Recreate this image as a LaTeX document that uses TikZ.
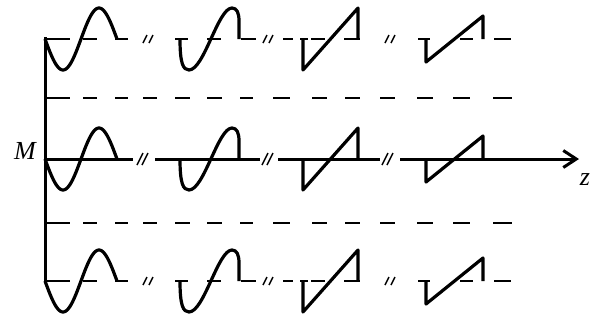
\documentclass[tikz,border=0pt]{standalone}
\usepackage{fontspec}
\setmainfont{Liberation Serif}
\usetikzlibrary{arrows.meta}

% one row of the four wave shapes on baseline #1
\newcommand{\waverow}[1]{%
  \draw[wave] plot[domain=0:360, samples=61, smooth] ({45+\x/5}, {#1+31*sin(\x)});
  \draw[wave] (180,#1) .. controls (180,#1+24) and (183,#1+31) .. (189,#1+31)
    .. controls (204,#1+31) and (218,#1-31) .. (232,#1-31)
    .. controls (237,#1-31) and (239,#1-26) .. (239,#1-18) -- (239,#1);
  \draw[wave] (303,#1) -- (303,#1+31) -- (358,#1-31) -- (358,#1);
  \draw[wave] (426,#1) -- (426,#1+23) -- (483,#1-23) -- (483,#1);
}

\begin{document}
\begin{tikzpicture}[
    x=1pt, y=-1pt,
    wave/.style={line width=3.2pt, line join=round},
    base/.style={line width=2.6pt},
    brk/.style={line width=1.5pt},
    axis/.style={line width=3pt},
    lbl/.style={font=\fontsize{26}{28}\selectfont\itshape, inner sep=0pt}
  ]
  \useasboundingbox (0,0) rectangle (597,322);

  % ===== Vertical axis =====
  \coordinate (top) at (45,37);
  \coordinate (bot) at (45,283);
  \draw[axis] (top) -- (bot);
  \node[lbl] (M) at (25,151) {M};

  % ===== Dashed rows =====
  \foreach \b in {98,223}
    \foreach \s/\e in {45/70,83/97,115/128,143/157,175/190,207/222,240/253,273/290,312/327,345/360,380/395,417/433,453/470,493/512}
      \draw[base] (\s,\b) -- (\e,\b);

  % ===== Top and bottom rows =====
  \foreach \b in {39,281} {
    \foreach \s/\e in {45/70,83/97,115/128,175/188,207/221,241/256,283/293,300/308,311/325,344/360,418/430,460/473,494/511}
      \draw[base] (\s,\b) -- (\e,\b);
    \foreach \c in {148,268,390}
      \draw[brk] (\c-5,\b+4) -- (\c-1,\b-4) (\c+1,\b+4) -- (\c+5,\b-4);
    \waverow{\b}
  }

  % ===== Middle row (z axis) =====
  \coordinate (zend) at (579,159);
  \foreach \s/\e in {45/133,155/260,278/380}
    \draw[axis] (\s,159) -- (\e,159);
  \draw[axis, -{Straight Barb[length=13pt, width=17pt]}] (400,159) -- (zend);
  \foreach \c in {143,268,388}
    \draw[brk] (\c-6,165) -- (\c,153) (\c-1,165) -- (\c+5,153);
  \waverow{159}
  \node[lbl] (z) at (585,180) {z};
\end{tikzpicture}
\end{document}
